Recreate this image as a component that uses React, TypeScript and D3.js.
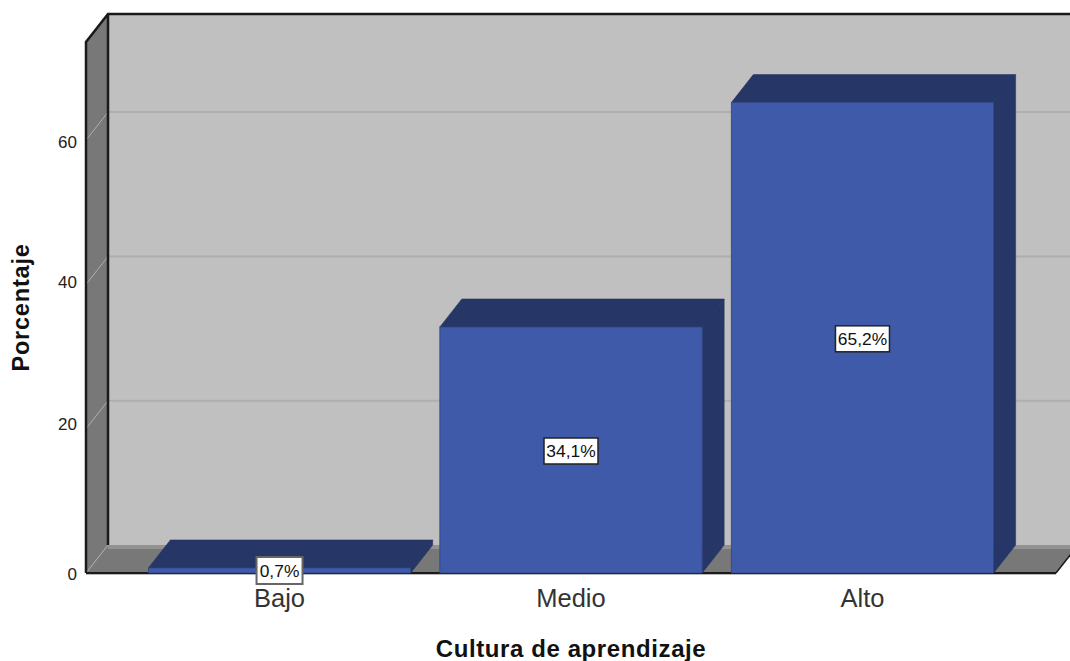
import { useRef, useEffect } from 'react';
import * as d3 from 'd3';

const categories = ['Bajo', 'Medio', 'Alto'];
const percentages = [0.7, 34.1, 65.2];
const valueLabels = ['0,7%', '34,1%', '65,2%'];
const yTicks = [0, 20, 40, 60];
const xTitle = 'Cultura de aprendizaje';
const yTitle = 'Porcentaje';

const width = 1070;
const height = 661;
const depthX = 22;
const depthY = 28;
const floorY = 573;
const topY = 42;
const leftX = 86;
const rightX = 1056;

const wallColor = '#c0c0c0';
const sideColor = '#787878';
const gridColor = '#aeaeae';
const barFront = '#3e5aa8';
const barDark = '#263767';
const edge = '#1a1a1a';

// tick labels do not sit exactly on their gridline in the original
const tickNudge = new Map([[0, 1], [20, -5], [40, -3], [60, 2]]);

const App = () => {
  const ref = useRef<SVGSVGElement | null>(null);

  useEffect(() => {
    const svg = d3.select(ref.current);
    svg.selectAll('*').remove();

    const y = d3.scaleLinear().domain([0, 73.6]).range([floorY, topY]);
    const x = d3.scaleBand<string>()
      .domain(categories)
      .range([leftX, rightX])
      .paddingInner(0.1)
      .paddingOuter(0.214);

    const poly = (pts: number[][], fill: string) =>
      svg.append('polygon').attr('points', pts.map(p => p.join(',')).join(' ')).attr('fill', fill);

    const backX = leftX + depthX;
    const backFloor = floorY - depthY;
    const backTop = topY - depthY;

    // back wall
    svg.append('rect').attr('x', backX).attr('y', backTop)
      .attr('width', width - backX).attr('height', backFloor - backTop).attr('fill', wallColor);
    // left wall
    poly([[leftX, topY], [backX, backTop], [backX, backFloor], [leftX, floorY]], sideColor);
    // floor, cut off by the right edge of the picture
    const cutY = floorY - depthY * (width - rightX) / depthX;
    poly([[leftX, floorY], [backX, backFloor], [width, backFloor], [width, cutY], [rightX, floorY]], sideColor);
    svg.append('rect').attr('x', backX).attr('y', backFloor).attr('width', width - backX).attr('height', 4).attr('fill', '#929292');

    // gridlines, back wall and left wall
    yTicks.forEach(t => {
      const py = y(t);
      if (t > 0) {
        svg.append('line').attr('x1', backX).attr('x2', width)
          .attr('y1', py - depthY).attr('y2', py - depthY)
          .attr('stroke', gridColor).attr('stroke-width', 2);
      }
      svg.append('line').attr('x1', leftX).attr('x2', backX)
        .attr('y1', py).attr('y2', py - depthY)
        .attr('stroke', gridColor).attr('stroke-width', 1);
    });

    // frame edges
    svg.append('path')
      .attr('d', `M${leftX},${floorY}V${topY}L${backX},${backTop}H${width}M${backX},${backTop}V${backFloor}`)
      .attr('fill', 'none').attr('stroke', edge).attr('stroke-width', 2.5);
    svg.append('line').attr('x1', leftX).attr('x2', rightX).attr('y1', floorY).attr('y2', floorY)
      .attr('stroke', edge).attr('stroke-width', 2);
    svg.append('line').attr('x1', leftX).attr('x2', rightX).attr('y1', floorY + 1.5).attr('y2', floorY + 1.5)
      .attr('stroke', '#b8b8b8').attr('stroke-width', 1);
    svg.append('line').attr('x1', rightX).attr('x2', rightX + depthX).attr('y1', floorY).attr('y2', backFloor)
      .attr('stroke', edge).attr('stroke-width', 1.5);

    // bars
    categories.forEach((c, i) => {
      const x0 = x(c) as number;
      const x1 = x0 + x.bandwidth();
      const yv = y(percentages[i]);
      poly([[x1, yv], [x1 + depthX, yv - depthY], [x1 + depthX, floorY - depthY], [x1, floorY]], barDark)
        .attr('stroke', '#1f2e58').attr('stroke-width', 0.5);
      poly([[x0, yv], [x0 + depthX, yv - depthY], [x1 + depthX, yv - depthY], [x1, yv]], barDark)
        .attr('stroke', '#1f2e58').attr('stroke-width', 0.5);
      svg.append('rect').attr('x', x0).attr('y', yv)
        .attr('width', x.bandwidth()).attr('height', floorY - yv)
        .attr('fill', barFront).attr('stroke', '#2f4585').attr('stroke-width', 0.8);
    });

    // y tick labels
    svg.append('g').selectAll('text').data(yTicks).join('text')
      .attr('x', 77).attr('y', d => y(d) + (tickNudge.get(d) ?? 0)).attr('dy', '0.36em')
      .attr('text-anchor', 'end')
      .attr('font-family', 'Liberation Sans').attr('font-size', 17).attr('fill', '#222')
      .text(d => d);

    // category labels
    svg.append('g').selectAll('text').data(categories).join('text')
      .attr('x', d => (x(d) as number) + x.bandwidth() / 2).attr('y', 607)
      .attr('text-anchor', 'middle')
      .attr('font-family', 'Liberation Sans').attr('font-size', 25.5).attr('fill', '#333')
      .text(d => d);

    // value labels
    categories.forEach((c, i) => {
      const cx = (x(c) as number) + x.bandwidth() / 2;
      const yv = y(percentages[i]);
      const cy = i === 0 ? 570.5 : (yv + floorY) / 2 + 1;
      const w = i === 0 ? 46 : 54;
      const g = svg.append('g');
      if (i === 0) {
        g.append('rect').attr('x', cx - w / 2).attr('y', cy - 13.5).attr('width', w).attr('height', 27)
          .attr('fill', '#fff').attr('stroke', '#666').attr('stroke-width', 2);
      } else {
        g.append('rect').attr('x', cx - w / 2).attr('y', cy - 13).attr('width', w).attr('height', 26)
          .attr('fill', '#fff').attr('stroke', '#222').attr('stroke-width', 1.5);
      }
      g.append('text').attr('x', cx).attr('y', cy).attr('dy', '0.36em').attr('text-anchor', 'middle')
        .attr('font-family', 'Liberation Sans').attr('font-size', 17.4).attr('fill', '#111')
        .text(valueLabels[i]);
    });

    // axis titles
    svg.append('text').attr('x', 571).attr('y', 656.5).attr('text-anchor', 'middle')
      .attr('font-family', 'Liberation Sans').attr('font-weight', 'bold').attr('font-size', 24)
      .attr('letter-spacing', 0.6).attr('fill', '#111')
      .text(xTitle);
    svg.append('text').attr('transform', 'translate(29,307.5) rotate(-90)').attr('text-anchor', 'middle')
      .attr('font-family', 'Liberation Sans').attr('font-weight', 'bold').attr('font-size', 23.5)
      .attr('letter-spacing', 0.8).attr('fill', '#111')
      .text(yTitle);
  }, []);

  return (
    <svg ref={ref} width={width} height={height} style={{ position: 'absolute', left: 0, top: 0, background: '#fff' }} />
  );
};

export default App;
